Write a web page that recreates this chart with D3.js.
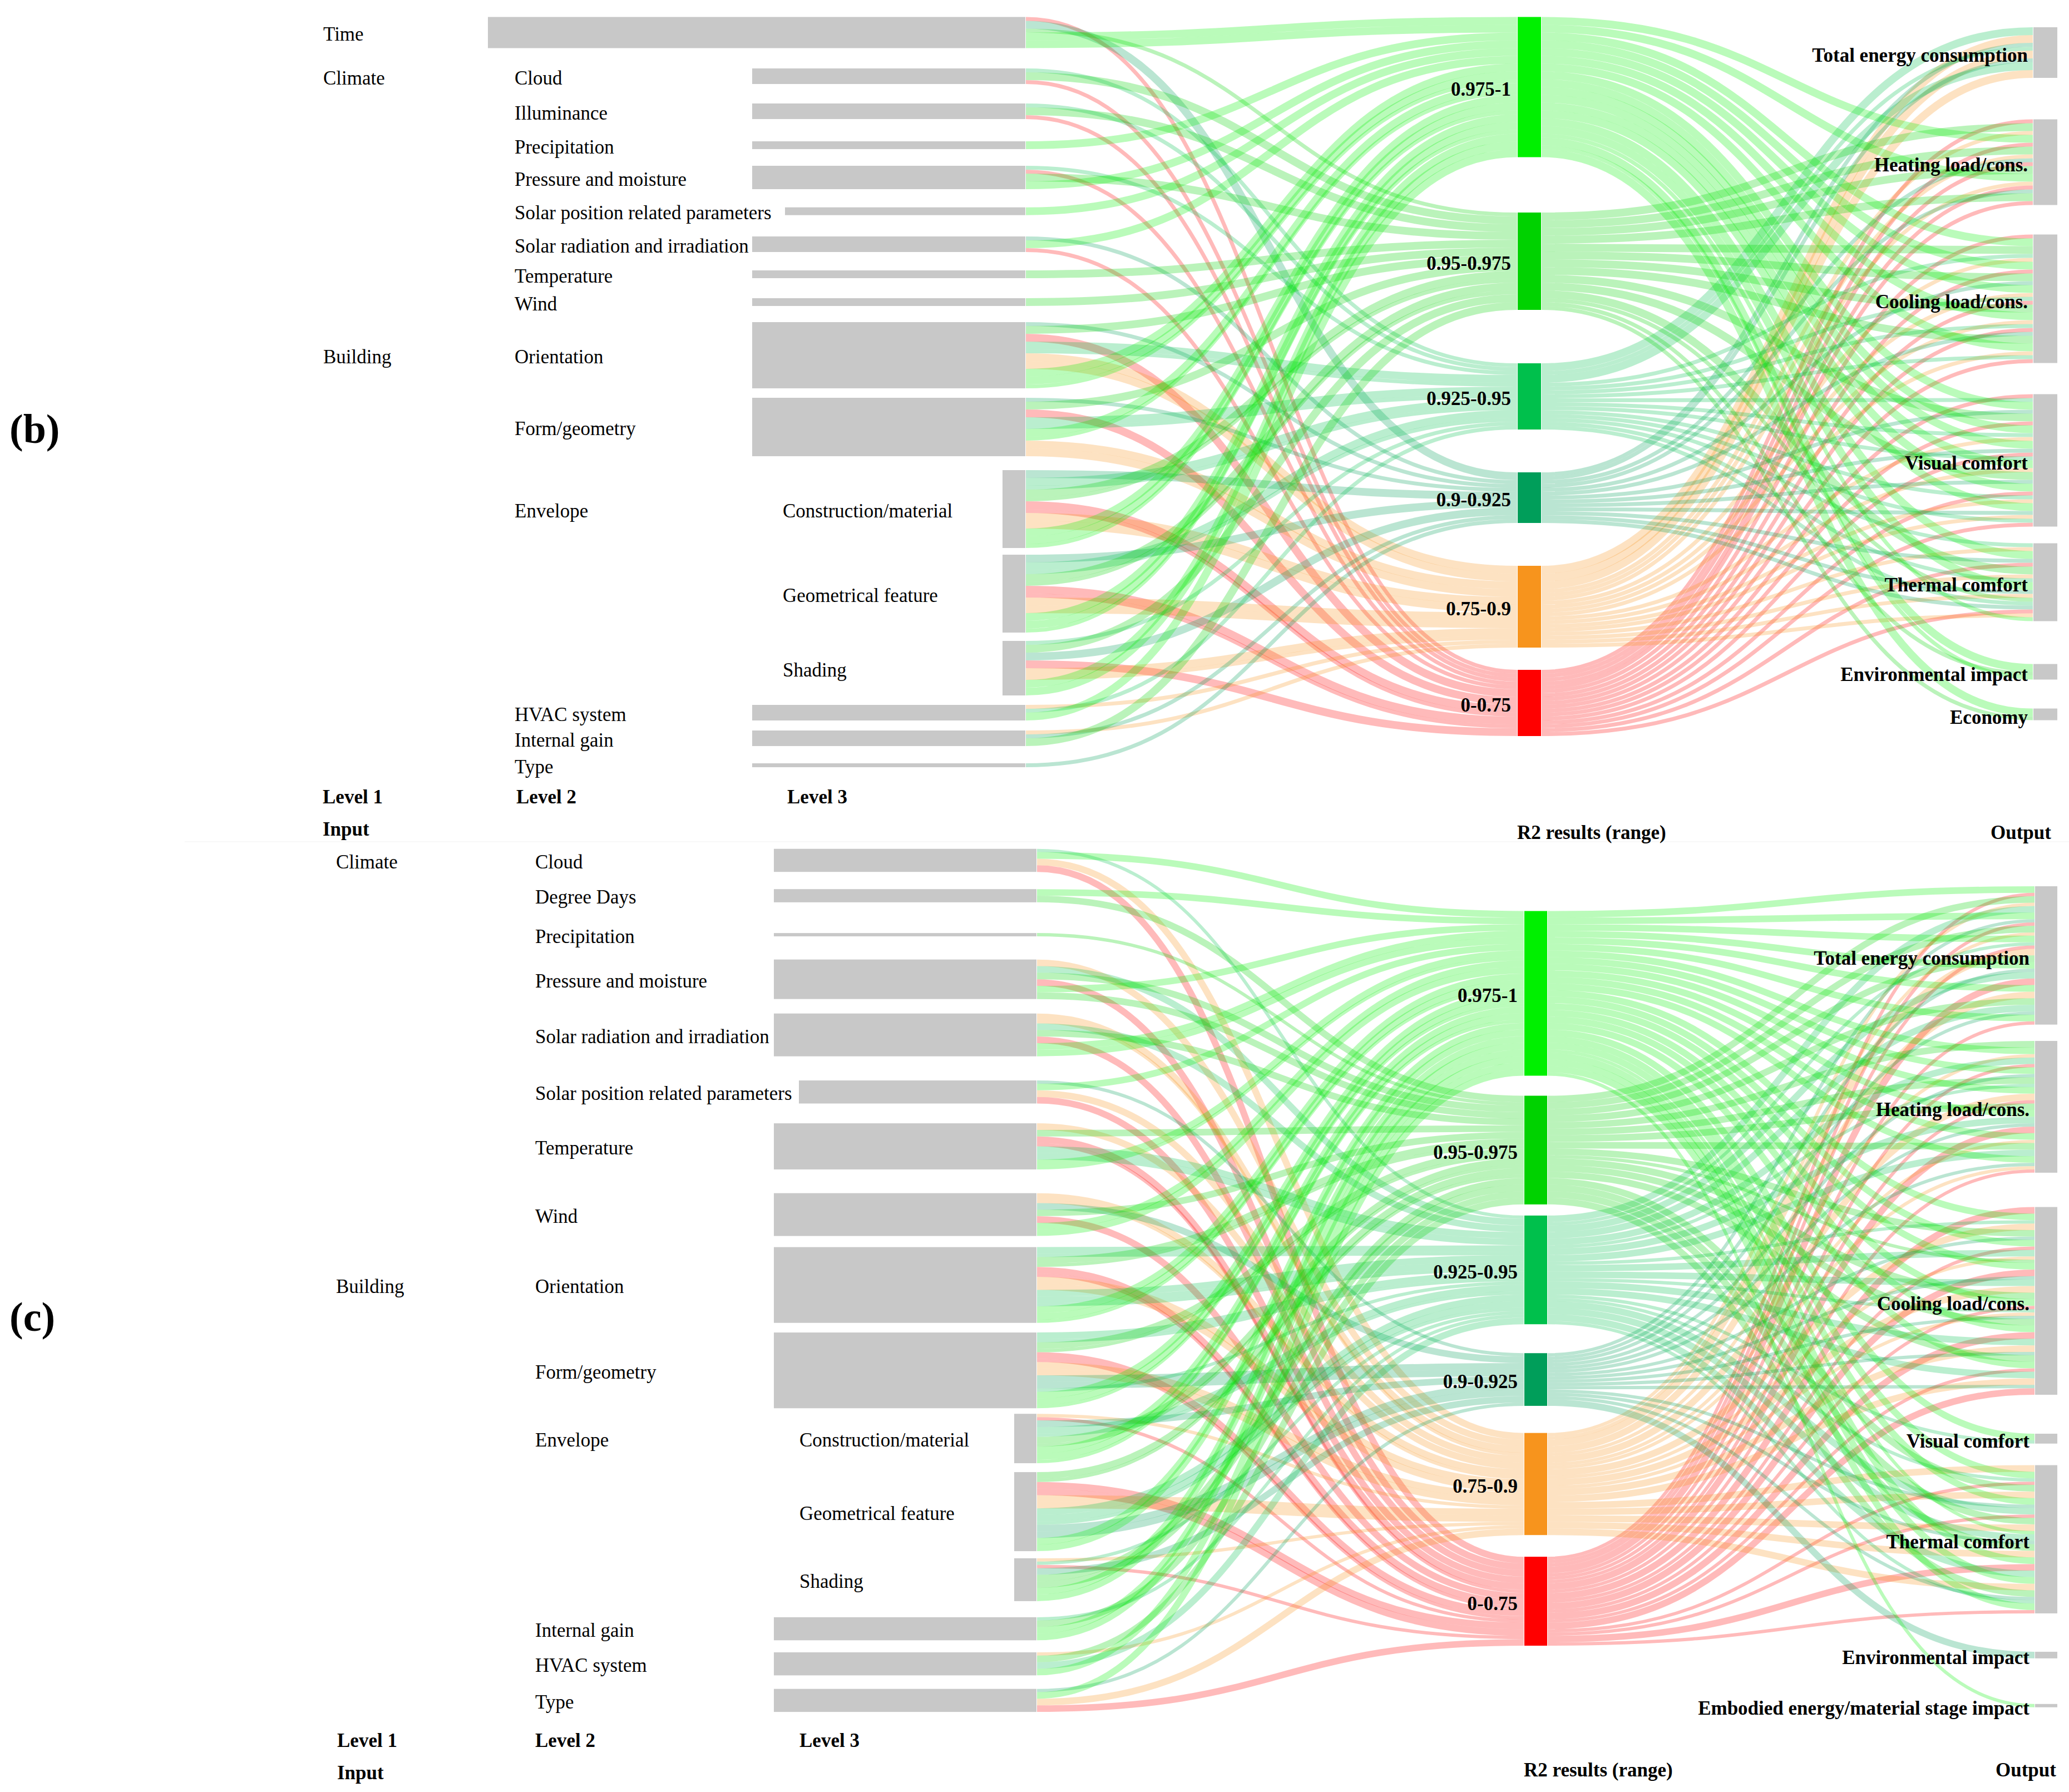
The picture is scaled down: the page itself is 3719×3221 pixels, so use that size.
<!DOCTYPE html>
<html><head><meta charset="utf-8">
<script src="https://cdn.jsdelivr.net/npm/d3@7"></script>
<style>
html,body{margin:0;padding:0;background:#fff;}
svg text{font-family:"Liberation Serif","Times New Roman",serif;fill:#000;}
</style></head>
<body><svg id="chart" width="3719" height="3221"></svg>
<script>
// ---------------- DATA ----------------
const r2Keys = ["A","B","C","D","E","F"];
const r2Labels = ["0.975-1","0.95-0.975","0.925-0.95","0.9-0.925","0.75-0.9","0-0.75"];
const r2Colors = ["#00f000","#00d200","#00c04c","#009e5a","#f7941d","#ff0000"];

// ---- panel (b) ----
const inputsB = ["Time","Cloud","Illuminance","Precipitation","Pressure and moisture",
  "Solar position related parameters","Solar radiation and irradiation","Temperature","Wind",
  "Orientation","Form/geometry","Construction/material","Geometrical feature","Shading",
  "HVAC system","Internal gain","Type"];
const inputLevelsB = [1,2,2,2,2,2,2,2,2,2,2,3,3,3,2,2,2];
const groupsB = [["Climate","Cloud",1],["Building","Orientation",1],["Envelope","Construction/material",2]];
const outputKeysB = ["TE","HL","CL","VC","TC","EI","EC"];
const outputLabelsB = ["Total energy consumption","Heating load/cons.","Cooling load/cons.","Visual comfort","Thermal comfort","Environmental impact","Economy"];

// input -> R2 range strands [input, range, value]
const flowsInB = [
  ["Time","F",1],["Time","D",2],["Time","B",1],["Time","A",2],["Time","A",2],
  ["Cloud","C",1],["Cloud","B",2],["Cloud","F",1],
  ["Illuminance","C",1],["Illuminance","B",2],["Illuminance","F",1],
  ["Precipitation","A",2],
  ["Pressure and moisture","C",1],["Pressure and moisture","F",1],["Pressure and moisture","B",2],["Pressure and moisture","A",2],
  ["Solar position related parameters","A",2],
  ["Solar radiation and irradiation","D",1],["Solar radiation and irradiation","A",2],["Solar radiation and irradiation","F",1],
  ["Temperature","B",2],
  ["Wind","B",2],
  ["Orientation","D",1],["Orientation","B",2],["Orientation","F",2],["Orientation","C",2],["Orientation","C",1],
  ["Orientation","E",2],["Orientation","E",2],["Orientation","A",2],["Orientation","A",2],["Orientation","A",1],
  ["Form/geometry","D",1],["Form/geometry","B",2],["Form/geometry","F",2],["Form/geometry","C",2],["Form/geometry","C",1],
  ["Form/geometry","A",2],["Form/geometry","A",1],["Form/geometry","E",2],["Form/geometry","E",2],
  ["Construction/material","D",2],["Construction/material","C",2],["Construction/material","C",1],["Construction/material","B",2],
  ["Construction/material","B",1],["Construction/material","F",2],["Construction/material","F",1],["Construction/material","E",2],
  ["Construction/material","E",2],["Construction/material","A",2],["Construction/material","A",2],["Construction/material","A",1],
  ["Geometrical feature","D",2],["Geometrical feature","C",2],["Geometrical feature","C",1],["Geometrical feature","B",2],
  ["Geometrical feature","B",1],["Geometrical feature","F",2],["Geometrical feature","F",1],["Geometrical feature","E",2],
  ["Geometrical feature","E",2],["Geometrical feature","A",2],["Geometrical feature","A",2],["Geometrical feature","A",1],
  ["Shading","C",1],["Shading","B",2],["Shading","D",2],["Shading","F",2],["Shading","E",2],["Shading","E",1],
  ["Shading","A",2],["Shading","A",2],
  ["HVAC system","E",1],["HVAC system","C",1],["HVAC system","A",2],
  ["Internal gain","E",1],["Internal gain","D",1],["Internal gain","B",2],
  ["Type","D",1]
];
// R2 range -> output strands [range, output, value]
const flowsOutB = [
  ["C","TE",2],["E","TE",2],["D","TE",1],["C","TE",1],["E","TE",2],["D","TE",1],["C","TE",2],["E","TE",2],
  ["F","HL",1],["B","HL",2],["E","HL",1],["A","HL",2],["F","HL",1],["B","HL",2],["E","HL",1],["D","HL",1],
  ["F","HL",1],["B","HL",2],["A","HL",2],["E","HL",1],["F","HL",1],["D","HL",1],["B","HL",2],["F","HL",1],
  ["F","CL",1],["A","CL",2],["B","CL",2],["C","CL",1],["E","CL",1],["A","CL",2],["F","CL",1],["B","CL",2],
  ["D","CL",1],["A","CL",2],["E","CL",1],["C","CL",1],["F","CL",1],["B","CL",2],["A","CL",2],["E","CL",1],
  ["C","CL",1],["F","CL",1],["D","CL",1],["B","CL",2],["A","CL",2],["E","CL",1],["C","CL",1],["F","CL",1],
  ["F","VC",1],["C","VC",1],["A","VC",2],["D","VC",1],["B","VC",2],["F","VC",1],["A","VC",2],["C","VC",1],
  ["E","VC",1],["A","VC",2],["D","VC",1],["F","VC",1],["C","VC",1],["A","VC",2],["E","VC",1],["B","VC",2],
  ["D","VC",1],["A","VC",2],["F","VC",1],["C","VC",1],["E","VC",1],["A","VC",2],["D","VC",1],["E","VC",1],
  ["C","VC",1],["F","VC",1],
  ["C","TC",1],["E","TC",1],["A","TC",2],["D","TC",1],["F","TC",1],["B","TC",2],["E","TC",1],["C","TC",1],
  ["A","TC",2],["D","TC",1],["E","TC",1],["B","TC",1],["C","TC",1],["D","TC",1],["F","TC",1],["E","TC",1],
  ["A","TC",1],
  ["A","EI",2],["B","EI",1],["A","EI",1],
  ["A","EC",2],["B","EC",1]
];

// ---- panel (c) ----
const inputsC = ["Cloud","Degree Days","Precipitation","Pressure and moisture","Solar radiation and irradiation",
  "Solar position related parameters","Temperature","Wind","Orientation","Form/geometry",
  "Construction/material","Geometrical feature","Shading","Internal gain","HVAC system","Type"];
const inputLevelsC = [2,2,2,2,2,2,2,2,2,2,3,3,3,2,2,2];
const groupsC = [["Climate","Cloud",1],["Building","Orientation",1],["Envelope","Construction/material",2]];
const outputKeysC = ["TE","HL","CL","VC","TC","EI","EM"];
const outputLabelsC = ["Total energy consumption","Heating load/cons.","Cooling load/cons.","Visual comfort","Thermal comfort","Environmental impact","Embodied energy/material stage impact"];

const flowsInC = [
  ["Cloud","C",1],["Cloud","A",2],["Cloud","E",2],["Cloud","F",2],
  ["Degree Days","A",2],["Degree Days","B",2],
  ["Precipitation","B",1],
  ["Pressure and moisture","E",2],["Pressure and moisture","C",2],["Pressure and moisture","B",2],
  ["Pressure and moisture","F",2],["Pressure and moisture","A",2],["Pressure and moisture","B",2],
  ["Solar radiation and irradiation","E",2],["Solar radiation and irradiation","E",1],["Solar radiation and irradiation","C",2],
  ["Solar radiation and irradiation","B",2],["Solar radiation and irradiation","F",2],["Solar radiation and irradiation","A",2],
  ["Solar radiation and irradiation","A",2],
  ["Solar position related parameters","D",1],["Solar position related parameters","A",2],
  ["Solar position related parameters","E",2],["Solar position related parameters","F",2],
  ["Temperature","E",2],["Temperature","B",2],["Temperature","F",2],["Temperature","F",1],["Temperature","C",2],
  ["Temperature","C",2],["Temperature","A",2],["Temperature","A",1],
  ["Wind","E",2],["Wind","E",1],["Wind","D",2],["Wind","B",2],["Wind","F",2],["Wind","A",2],["Wind","A",2],
  ["Orientation","C",2],["Orientation","C",1],["Orientation","B",2],["Orientation","B",1],["Orientation","F",2],
  ["Orientation","F",1],["Orientation","E",2],["Orientation","E",2],["Orientation","C",2],["Orientation","C",2],
  ["Orientation","C",1],["Orientation","A",2],["Orientation","A",2],["Orientation","A",1],
  ["Form/geometry","C",2],["Form/geometry","C",1],["Form/geometry","B",2],["Form/geometry","B",1],["Form/geometry","F",2],
  ["Form/geometry","F",1],["Form/geometry","E",2],["Form/geometry","E",2],["Form/geometry","D",2],["Form/geometry","D",2],
  ["Form/geometry","C",1],["Form/geometry","A",2],["Form/geometry","A",2],["Form/geometry","A",1],
  ["Construction/material","E",1],["Construction/material","F",1],["Construction/material","D",2],["Construction/material","C",2],
  ["Construction/material","C",1],["Construction/material","B",2],["Construction/material","B",1],["Construction/material","A",2],
  ["Construction/material","A",2],["Construction/material","A",1],
  ["Geometrical feature","B",2],["Geometrical feature","B",1],["Geometrical feature","F",2],["Geometrical feature","F",2],
  ["Geometrical feature","E",2],["Geometrical feature","E",2],["Geometrical feature","C",2],["Geometrical feature","C",2],
  ["Geometrical feature","C",1],["Geometrical feature","D",2],["Geometrical feature","D",2],["Geometrical feature","A",2],
  ["Geometrical feature","A",2],
  ["Shading","E",1],["Shading","C",1],["Shading","F",1],["Shading","D",2],["Shading","B",2],["Shading","B",2],
  ["Shading","A",2],["Shading","A",2],
  ["Internal gain","C",1],["Internal gain","B",2],["Internal gain","A",2],["Internal gain","A",2],
  ["HVAC system","E",1],["HVAC system","B",2],["HVAC system","C",2],["HVAC system","A",2],
  ["Type","D",1],["Type","A",2],["Type","E",2],["Type","F",2]
];
const flowsOutC = [
  ["A","TE",2],["F","TE",1],["B","TE",2],["E","TE",1],["C","TE",2],["A","TE",2],["D","TE",1],["F","TE",1],
  ["B","TE",2],["E","TE",1],["A","TE",2],["C","TE",1],["F","TE",1],["E","TE",2],["B","TE",2],["A","TE",2],
  ["D","TE",1],["C","TE",2],["F","TE",2],["A","TE",2],["E","TE",2],["B","TE",2],["C","TE",2],["D","TE",1],
  ["A","TE",2],["F","TE",1],
  ["B","HL",2],["A","HL",2],["E","HL",1],["C","HL",2],["F","HL",1],["A","HL",2],["D","HL",1],["B","HL",2],
  ["C","HL",1],["A","HL",2],["E","HL",2],["F","HL",1],["B","HL",2],["A","HL",2],["C","HL",2],["D","HL",1],
  ["F","HL",2],["A","HL",2],["E","HL",1],["B","HL",2],["C","HL",2],["A","HL",2],["D","HL",1],["E","HL",1],
  ["F","HL",1],
  ["F","CL",2],["A","CL",2],["C","CL",1],["E","CL",2],["B","CL",2],["D","CL",1],["A","CL",2],["F","CL",1],
  ["C","CL",2],["E","CL",1],["B","CL",1],["A","CL",2],["F","CL",2],["D","CL",1],["C","CL",2],["E","CL",2],
  ["B","CL",2],["A","CL",2],["F","CL",1],["C","CL",1],["E","CL",1],["D","CL",1],["B","CL",2],["A","CL",2],
  ["F","CL",2],["C","CL",2],["E","CL",2],["D","CL",1],["B","CL",2],["A","CL",2],["F","CL",1],["C","CL",2],
  ["E","CL",2],["D","CL",1],["F","CL",2],
  ["A","VC",2],["C","VC",1],
  ["E","TC",2],["A","TC",2],["C","TC",1],["F","TC",1],["B","TC",2],["E","TC",2],["A","TC",2],["D","TC",1],
  ["C","TC",2],["F","TC",1],["B","TC",2],["E","TC",2],["A","TC",1],["C","TC",2],["D","TC",1],["B","TC",2],
  ["E","TC",2],["A","TC",2],["F","TC",2],["C","TC",2],["A","TC",2],["E","TC",2],["B","TC",2],["D","TC",1],
  ["C","TC",1],["A","TC",2],["F","TC",1],
  ["D","EI",2],
  ["A","EM",1]
];

// ---------------- LAYOUT (positions / sizes / styles) ----------------
const layoutB = {
  unit: 7.0, xIn: 1844, xMid: 2727, nodeW: 44, xOut: 3654, outW: 43,
  col: [0, 581, 925, 1407], barL2: 1352, barL3: 1802,
  barOverride: {"Time": 877, "Solar position related parameters": 1411},
  inTop: 30.5, inGaps: [36.5,35,40,30,32.7,38.3,33,36,29,17,25,12,15,17,18,31],
  midTop: 30.5, midGaps: [99.5,96,77,77,40],
  outTop: 49, outGaps: [74.5,53,56,30,77,52],
  panelLabel: ["(b)", 17, 771],
  bottom: [["Level 1",580,1432],["Level 2",928,1432],["Level 3",1415,1432],
           ["Input",580,1490],["R2 results (range)",2727,1496],["Output",3578,1496]]
};
const layoutC = {
  unit: 5.92, xIn: 1864, xMid: 2739, nodeW: 43, xOut: 3657, outW: 40,
  col: [0, 604, 962, 1437], barL2: 1391, barL3: 1823,
  barOverride: {"Solar position related parameters": 1436},
  inTop: 1525.7, inGaps: [31,55.3,41.6,26,43.4,35.6,42.7,20,17.3,10,16,12.8,29,21.6,24.3],
  midTop: 1637.5, midGaps: [36,20,52,48.7,39],
  outTop: 1593, outGaps: [29.4,61.7,70,38.8,69,82],
  panelLabel: ["(c)", 17, 2367],
  bottom: [["Level 1",606,3128],["Level 2",962,3128],["Level 3",1437,3128],
           ["Input",606,3186],["R2 results (range)",2739,3181],["Output",3587,3181]]
};
const NODE_GRAY = "#c8c8c8";
const LINK_OPACITY = 0.27;
const FONT_SIZE = 35;

// ---------------- DRAW ----------------
const svg = d3.select("#chart");
svg.append("rect").attr("width",3719).attr("height",3221).attr("fill","#fff");
svg.append("line").attr("x1",332).attr("x2",3719).attr("y1",1513).attr("y2",1513)
   .attr("stroke","#f8f8f8").attr("stroke-width",2);

function drawPanel(inputs, levels, groups, outKeys, outLabels, flowsIn, flowsOut, L) {
  const g = svg.append("g");
  const y = d3.scaleLinear().domain([0, 1]).range([0, L.unit]);
  const stack = (nodes, top, gaps) => {
    let cy = top;
    nodes.forEach((n, i) => { if (i > 0) cy += gaps[i - 1]; n.y0 = cy; n.y1 = cy + y(n.value); cy = n.y1; });
  };
  const inNodes = inputs.map((name, i) => ({name, level: levels[i],
    value: d3.sum(flowsIn.filter(f => f[0] === name), f => f[2]), off: 0}));
  const midNodes = r2Keys.map((k, i) => ({key: k, label: r2Labels[i], color: r2Colors[i],
    value: d3.sum(flowsIn.filter(f => f[1] === k), f => f[2]), inOff: 0, outOff: 0}));
  const outNodes = outKeys.map((k, i) => ({key: k, label: outLabels[i],
    value: d3.sum(flowsOut.filter(f => f[1] === k), f => f[2]), off: 0}));
  stack(inNodes, L.inTop, L.inGaps);
  stack(midNodes, L.midTop, L.midGaps);
  stack(outNodes, L.outTop, L.outGaps);

  const inIdx = new Map(inNodes.map((n, i) => [n.name, i]));
  const midIdx = new Map(midNodes.map((n, i) => [n.key, i]));
  const outIdx = new Map(outNodes.map((n, i) => [n.key, i]));

  const left = flowsIn.map((f, i) => ({src: inIdx.get(f[0]), tgt: midIdx.get(f[1]), w: y(f[2]), order: i}));
  left.forEach(s => { const n = inNodes[s.src]; s.y0 = n.y0 + n.off + s.w / 2; n.off += s.w; });
  left.slice().sort((a, b) => a.src - b.src || a.order - b.order).forEach(s => {
    const n = midNodes[s.tgt]; s.y1 = n.y0 + n.inOff + s.w / 2; n.inOff += s.w; });

  const right = flowsOut.map((f, i) => ({src: midIdx.get(f[0]), tgt: outIdx.get(f[1]), w: y(f[2]), order: i}));
  right.forEach(s => {
    const m = midNodes[s.src]; s.y0 = m.y0 + m.outOff + s.w / 2; m.outOff += s.w;
    const o = outNodes[s.tgt]; s.y1 = o.y0 + o.off + s.w / 2; o.off += s.w; });

  const link = d3.linkHorizontal();
  g.append("g").selectAll("path").data(left).join("path")
    .attr("d", s => link({source: [L.xIn, s.y0], target: [L.xMid, s.y1]}))
    .attr("fill", "none").attr("stroke", s => r2Colors[s.tgt])
    .attr("stroke-opacity", LINK_OPACITY).attr("stroke-width", s => s.w);
  g.append("g").selectAll("path").data(right).join("path")
    .attr("d", s => link({source: [L.xMid + L.nodeW, s.y0], target: [L.xOut, s.y1]}))
    .attr("fill", "none").attr("stroke", s => r2Colors[s.src])
    .attr("stroke-opacity", LINK_OPACITY).attr("stroke-width", s => s.w);

  // input bars
  const barStart = n => L.barOverride[n.name] !== undefined ? L.barOverride[n.name]
                        : (n.level === 3 ? L.barL3 : L.barL2);
  g.append("g").selectAll("rect").data(inNodes).join("rect")
    .attr("x", barStart).attr("y", n => n.y0)
    .attr("width", n => L.xIn - 1 - barStart(n)).attr("height", n => n.y1 - n.y0)
    .attr("fill", NODE_GRAY);
  // middle nodes
  g.append("g").selectAll("rect").data(midNodes).join("rect")
    .attr("x", L.xMid + 1).attr("y", n => n.y0).attr("width", L.nodeW - 2).attr("height", n => n.y1 - n.y0)
    .attr("fill", n => n.color);
  // output nodes
  g.append("g").selectAll("rect").data(outNodes).join("rect")
    .attr("x", L.xOut + 1).attr("y", n => n.y0).attr("width", L.outW).attr("height", n => n.y1 - n.y0)
    .attr("fill", NODE_GRAY);

  // labels
  const lab = g.append("g").attr("font-size", FONT_SIZE);
  lab.selectAll("text.in").data(inNodes).join("text").attr("class", "in")
    .attr("x", n => L.col[n.level]).attr("y", n => (n.y0 + n.y1) / 2 + 3)
    .attr("dominant-baseline", "central").text(n => n.name);
  lab.selectAll("text.grp").data(groups).join("text").attr("class", "grp")
    .attr("x", d => L.col[d[2]]).attr("y", d => { const n = inNodes[inIdx.get(d[1])]; return (n.y0 + n.y1) / 2 + 3; })
    .attr("dominant-baseline", "central").text(d => d[0]);
  lab.selectAll("text.mid").data(midNodes).join("text").attr("class", "mid")
    .attr("x", L.xMid - 11).attr("y", n => (n.y0 + n.y1) / 2 + 4)
    .attr("text-anchor", "end").attr("dominant-baseline", "central").attr("font-weight", "bold")
    .text(n => n.label);
  lab.selectAll("text.out").data(outNodes).join("text").attr("class", "out")
    .attr("x", L.xOut - 9).attr("y", n => (n.y0 + n.y1) / 2 + 5)
    .attr("text-anchor", "end").attr("dominant-baseline", "central").attr("font-weight", "bold")
    .text(n => n.label);
  lab.selectAll("text.bot").data(L.bottom).join("text").attr("class", "bot")
    .attr("x", d => d[1]).attr("y", d => d[2]).attr("dominant-baseline", "central")
    .attr("font-weight", "bold").text(d => d[0]);
  g.append("text").attr("x", L.panelLabel[1]).attr("y", L.panelLabel[2])
    .attr("dominant-baseline", "central").attr("font-size", 74).attr("font-weight", "bold")
    .text(L.panelLabel[0]);
}

drawPanel(inputsB, inputLevelsB, groupsB, outputKeysB, outputLabelsB, flowsInB, flowsOutB, layoutB);
drawPanel(inputsC, inputLevelsC, groupsC, outputKeysC, outputLabelsC, flowsInC, flowsOutC, layoutC);
</script>
</body></html>
